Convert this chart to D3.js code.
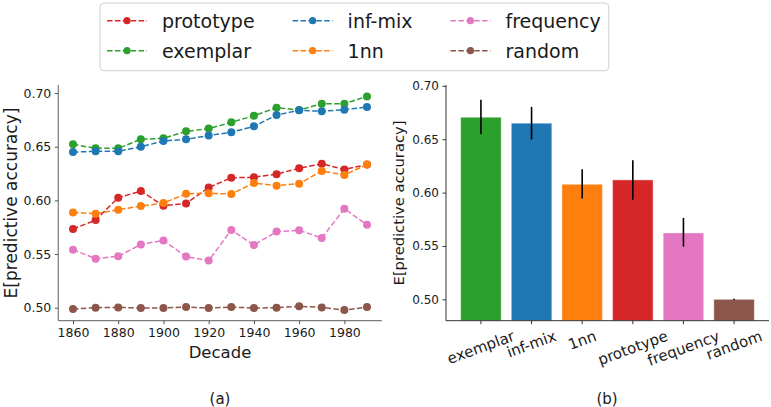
<!DOCTYPE html>
<html>
<head>
<meta charset="utf-8">
<script src="https://cdn.jsdelivr.net/npm/d3@7"></script>
<style>
  body { margin: 0; background: #fff; }
  text { font-family: "DejaVu Sans", sans-serif; fill: #1a1a1a; }
</style>
</head>
<body>
<script>
var w = 771, h = 407;

// data
var decades = [1860, 1870, 1880, 1890, 1900, 1910, 1920, 1930, 1940, 1950, 1960, 1970, 1980, 1990];
var prototype = [0.5733, 0.5817, 0.6025, 0.6087, 0.5950, 0.5972, 0.6120, 0.6210, 0.6216, 0.6244, 0.6300, 0.6341, 0.6288, 0.6334];
var exemplar  = [0.6522, 0.6485, 0.6485, 0.6569, 0.6578, 0.6643, 0.6669, 0.6727, 0.6789, 0.6863, 0.6842, 0.6900, 0.6900, 0.6969];
var infMix    = [0.6450, 0.6457, 0.6457, 0.6500, 0.6553, 0.6569, 0.6604, 0.6634, 0.6690, 0.6795, 0.6839, 0.6830, 0.6845, 0.6870];
var oneNN     = [0.5888, 0.5876, 0.5913, 0.5947, 0.5975, 0.6062, 0.6066, 0.6059, 0.6162, 0.6137, 0.6156, 0.6274, 0.6237, 0.6334];
var frequency = [0.5541, 0.5457, 0.5479, 0.5590, 0.5627, 0.5476, 0.5439, 0.5724, 0.5584, 0.5709, 0.5721, 0.5650, 0.5922, 0.5772];
var random    = [0.4988, 0.5000, 0.5003, 0.4997, 0.4997, 0.5006, 0.4997, 0.5006, 0.4997, 0.5000, 0.5013, 0.5003, 0.4978, 0.5006];

var barNames  = ["exemplar", "inf-mix", "1nn", "prototype", "frequency", "random"];
var barValues = [0.6706, 0.6650, 0.6078, 0.6119, 0.5622, 0.5000];
var barLow    = [0.6547, 0.6497, 0.5944, 0.5934, 0.5494, 0.4994];
var barHigh   = [0.6869, 0.6803, 0.6219, 0.6303, 0.5763, 0.5006];

var yTicks = [0.50, 0.55, 0.60, 0.65, 0.70];
var xTicks = [1860, 1880, 1900, 1920, 1940, 1960, 1980];

var color = {
  "prototype": "#d62728", "exemplar": "#2ca02c", "inf-mix": "#1f77b4",
  "1nn": "#ff7f0e", "frequency": "#e377c2", "random": "#8c564b"
};

var series = [
  {name: "prototype", values: prototype},
  {name: "exemplar", values: exemplar},
  {name: "inf-mix", values: infMix},
  {name: "1nn", values: oneNN},
  {name: "frequency", values: frequency},
  {name: "random", values: random}
];

var svg = d3.select("body").append("svg")
    .attr("width", w)
    .attr("height", h);

// ---------- (a) line chart ----------
var x = d3.scaleLinear().domain([1853.5, 1996.5]).range([58.3, 381.7]);
var y = d3.scaleLinear().domain([0.4879, 0.7075]).range([320.7, 85]);

var gA = svg.append("g");

var ax = gA.append("g")
    .attr("transform", "translate(0,320.7)")
    .call(d3.axisBottom(x).tickValues(xTicks).tickFormat(d3.format("d")).tickSize(3.5).tickPadding(3.5));
var ay = gA.append("g")
    .attr("transform", "translate(58.3,0)")
    .call(d3.axisLeft(y).tickValues(yTicks).tickFormat(d3.format(".2f")).tickSize(3.5).tickPadding(3.5));
[ax, ay].forEach(function(a) {
  a.select(".domain").attr("stroke", "#7a7a7a").attr("stroke-width", 1.2);
  a.selectAll(".tick line").attr("stroke", "#555").attr("stroke-width", 1);
  a.selectAll(".tick text").style("font-size", "12.5px").attr("fill", "#1a1a1a");
});
ax.select(".domain").attr("d", "M58.3,0H381.7");
ay.select(".domain").attr("d", "M0,85V320.7");

var line = d3.line()
    .x(function(d, i) { return x(decades[i]); })
    .y(function(d) { return y(d); });

series.forEach(function(s) {
  gA.append("path")
      .attr("d", line(s.values))
      .attr("fill", "none")
      .attr("stroke", color[s.name])
      .attr("stroke-width", 1.5)
      .attr("stroke-dasharray", "5.5,2.4");
  gA.selectAll(null)
      .data(s.values)
      .enter().append("circle")
      .attr("cx", function(d, i) { return x(decades[i]); })
      .attr("cy", function(d) { return y(d); })
      .attr("r", 4)
      .attr("fill", color[s.name]);
});

gA.append("text")
    .attr("x", 220).attr("y", 352)
    .attr("text-anchor", "middle").attr("dominant-baseline", "central")
    .style("font-size", "16.5px")
    .text("Decade");
gA.append("text")
    .attr("transform", "translate(11,203) rotate(-90)")
    .attr("text-anchor", "middle").attr("dominant-baseline", "central")
    .style("font-size", "17px")
    .text("E[predictive accuracy]");
gA.append("text")
    .attr("x", 220).attr("y", 399)
    .attr("text-anchor", "middle").attr("dominant-baseline", "central")
    .style("font-size", "15px")
    .text("(a)");

// ---------- (b) bar chart ----------
var xb = d3.scaleBand().domain(barNames).range([446, 769]).paddingInner(0.2).paddingOuter(0.29);
var yb = d3.scaleLinear().domain([0.48, 0.7008]).range([320.7, 85]);

var gB = svg.append("g");

gB.selectAll(".bar")
    .data(barNames)
    .enter().append("rect")
    .attr("class", "bar")
    .attr("x", function(d) { return xb(d); })
    .attr("width", xb.bandwidth())
    .attr("y", function(d, i) { return yb(barValues[i]); })
    .attr("height", function(d, i) { return yb(0.48) - yb(barValues[i]); })
    .attr("fill", function(d) { return color[d]; })
    .attr("stroke", "#fff")
    .attr("stroke-opacity", 0.4)
    .attr("stroke-width", 1);

gB.selectAll(".err")
    .data(barNames)
    .enter().append("line")
    .attr("class", "err")
    .attr("x1", function(d) { return xb(d) + xb.bandwidth() / 2; })
    .attr("x2", function(d) { return xb(d) + xb.bandwidth() / 2; })
    .attr("y1", function(d, i) { return yb(barLow[i]); })
    .attr("y2", function(d, i) { return yb(barHigh[i]); })
    .attr("stroke", "#000")
    .attr("stroke-width", 1.6);

var bx = gB.append("g")
    .attr("transform", "translate(0,320.7)")
    .call(d3.axisBottom(xb).tickSize(3.5).tickFormat(""));
var by = gB.append("g")
    .attr("transform", "translate(446,0)")
    .call(d3.axisLeft(yb).tickValues(yTicks).tickFormat(d3.format(".2f")).tickSize(3.5).tickPadding(3.5));
[bx, by].forEach(function(a) {
  a.select(".domain").attr("stroke", "#333").attr("stroke-width", 1);
  a.selectAll(".tick line").attr("stroke", "#333");
  a.selectAll(".tick text").style("font-size", "12px").attr("fill", "#1a1a1a");
});
bx.select(".domain").attr("d", "M446,0H769");
by.select(".domain").attr("d", "M0,85V320.7");

// rotated category labels, centred under the tick, top of rotated box at the pad
var rot = 20 * Math.PI / 180;
var lblSize = 15;
gB.selectAll(".xlbl")
    .data(barNames)
    .enter().append("text")
    .attr("class", "xlbl")
    .style("font-size", lblSize + "px")
    .attr("text-anchor", "middle")
    .attr("dominant-baseline", "central")
    .text(function(d) { return d; })
    .each(function(d) {
      var tw = this.getComputedTextLength();
      var bh = tw * Math.sin(rot) + lblSize * 1.1 * Math.cos(rot);
      var cx = xb(d) + xb.bandwidth() / 2;
      var cy = 320.7 + 7 + bh / 2;
      d3.select(this).attr("transform", "translate(" + cx + "," + cy + ") rotate(-20)");
    });

gB.append("text")
    .attr("transform", "translate(398,203) rotate(-90)")
    .attr("text-anchor", "middle").attr("dominant-baseline", "central")
    .style("font-size", "14.7px")
    .text("E[predictive accuracy]");
gB.append("text")
    .attr("x", 607).attr("y", 399)
    .attr("text-anchor", "middle").attr("dominant-baseline", "central")
    .style("font-size", "15px")
    .text("(b)");

// ---------- legend ----------
var legendCols = [["prototype", "exemplar"], ["inf-mix", "1nn"], ["frequency", "random"]];
var leg = svg.append("g");
var box = leg.append("rect")
    .attr("x", 100).attr("y", 3)
    .attr("width", 505.7).attr("height", 67.7)
    .attr("rx", 4)
    .attr("fill", "#fff").attr("fill-opacity", 0.8)
    .attr("stroke", "#d0d0d0").attr("stroke-width", 1);

var colX = 107;
var rowY = [20.7, 50.7];
legendCols.forEach(function(col) {
  var maxW = 0;
  col.forEach(function(name, r) {
    var yy = rowY[r];
    leg.append("line")
        .attr("x1", colX).attr("x2", colX + 40)
        .attr("y1", yy).attr("y2", yy)
        .attr("stroke", color[name])
        .attr("stroke-width", 1.5)
        .attr("stroke-dasharray", "5.5,2.4");
    leg.append("circle")
        .attr("cx", colX + 20).attr("cy", yy)
        .attr("r", 3.6)
        .attr("fill", color[name]);
    var t = leg.append("text")
        .attr("x", colX + 55).attr("y", yy)
        .attr("dominant-baseline", "central")
        .style("font-size", "19px")
        .text(name);
    maxW = Math.max(maxW, t.node().getComputedTextLength());
  });
  colX = colX + 55 + maxW + 38;
});
box.attr("width", colX - 38 + 8 - 100);
</script>
</body>
</html>
